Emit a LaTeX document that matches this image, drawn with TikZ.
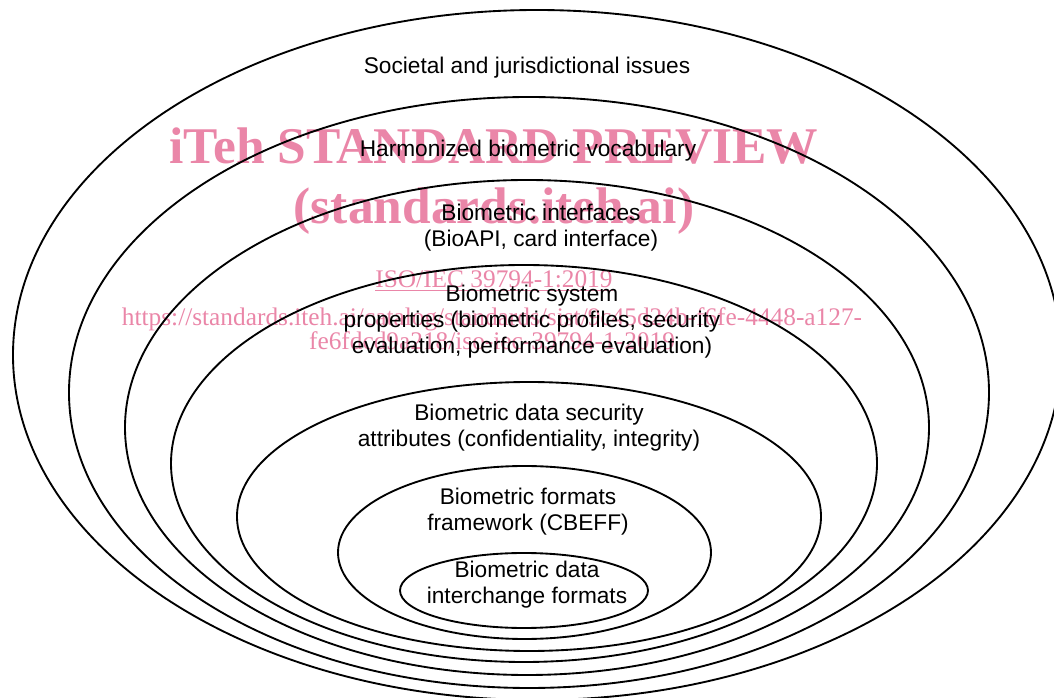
\documentclass[tikz,border=0pt]{standalone}
\usepackage{fontspec}
\setmainfont{Liberation Sans}
\newfontfamily\wmfont{Liberation Serif}
\definecolor{wmpink}{RGB}{234,134,168}

\tikzset{every picture/.style={line width=0.75pt}}
\tikzset{
  shell/.style={line width=1.4pt},
  shelltext/.style={align=center, font=\fontsize{17}{19.5}\selectfont},
  wmbig/.style={color=wmpink, anchor=base, font=\wmfont\bfseries\fontsize{38.6}{40}\selectfont},
  wmsmall/.style={color=wmpink, align=center, font=\wmfont\fontsize{19}{18}\selectfont},
}

\begin{document}
\begin{tikzpicture}[x=0.75pt, y=-0.75pt]
    \useasboundingbox (0,0) rectangle (1054,698);
    % preview watermark
    \node[wmbig] (wmtitle) at (494,164) {iTeh STANDARD PREVIEW};
    \node[wmbig] (wmsite) at (494,224) {(standards.iteh.ai)};
    \node[wmsmall, anchor=base] (wmiso) at (494,288) {\underline{ISO/IEC 39794-1:2019}};
    \node[wmsmall] (wmurl) at (492,329) {https://standards.iteh.ai/catalog/standards/sist/9c45d24b-f6fe-4448-a127-\\fe6fdcd9a218/iso-iec-39794-1-2019};
    % nested layers, outside in
    \draw[shell] (537,355) ellipse (524 and 345);
    \draw[shell] (529,392.5) ellipse (460 and 295.5);
    \draw[shell] (527,427.5) ellipse (402 and 247.5);
    \draw[shell] (524,463.5) ellipse (353 and 198.5);
    \draw[shell] (529,516.5) ellipse (292 and 134.5);
    \draw[shell] (524.5,552.5) ellipse (186.5 and 86.5);
    \draw[shell] (524,590.5) ellipse (124 and 37.5);
    \node[shelltext] (societal) at (527,68) {Societal and jurisdictional issues};
    \node[shelltext] (vocab) at (528,151) {Harmonized biometric vocabulary};
    \node[shelltext] (interfaces) at (541,228) {Biometric interfaces\\(BioAPI, card interface)};
    \node[shelltext] (sysprops) at (532,322) {Biometric system\\properties (biometric profiles, security\\evaluation, performance evaluation)};
    \node[shelltext] (security) at (529,428) {Biometric data security\\attributes (confidentiality, integrity)};
    \node[shelltext] (cbeff) at (528,512) {Biometric formats\\framework (CBEFF)};
    \node[shelltext] (interchange) at (527,585) {Biometric data\\interchange formats};
\end{tikzpicture}
\end{document}
